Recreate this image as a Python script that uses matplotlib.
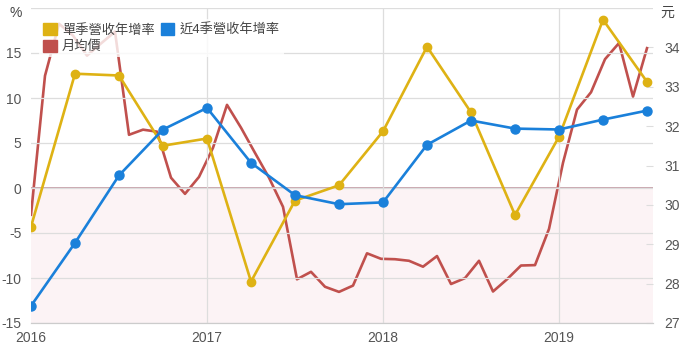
import matplotlib.pyplot as plt
from matplotlib.patches import Patch, Rectangle
from matplotlib.transforms import blended_transform_factory
import numpy as np

plt.rcParams['font.family'] = ['Liberation Sans', 'Noto Sans CJK TC']

# quarterly growth (%), quarters from 2016 Q1 to 2019 Q3
quarter_x = [2016 + 0.25 * i for i in range(15)]
single_q_growth = [-4.3, 12.7, 12.5, 4.7, 5.5, -10.4, -1.4, 0.3, 6.3, 15.7, 8.4, -3.0, 5.7, 18.7, 11.8]
four_q_growth = [-13.1, -6.1, 1.4, 6.5, 8.9, 2.8, -0.8, -1.8, -1.6, 4.8, 7.5, 6.6, 6.5, 7.6, 8.6]

# monthly average price (元)
price = [29.75, 33.28, 34.6, 34.3, 33.79, 34.1, 34.4, 31.78, 31.91, 31.86,
         30.69, 30.28, 30.71, 31.45, 32.54, 31.96, 31.32, 30.69, 29.95, 28.11,
         28.30, 27.92, 27.79, 27.95, 28.77, 28.63, 28.62, 28.58, 28.43, 28.70,
         27.99, 28.14, 28.58, 27.80, 28.11, 28.46, 28.47, 29.39, 31.07, 32.42,
         32.86, 33.70, 34.11, 32.75, 33.98]
price_x = np.linspace(2016, 2019.5, len(price))

years = [2016, 2017, 2018, 2019]
pct_ticks = [-15, -10, -5, 0, 5, 10, 15, 20]
price_ticks = [27, 28, 29, 30, 31, 32, 33, 34]

yellow = '#DEB214'
blue = '#1A80DA'
red = '#C0504D'
label_color = '#555555'

fig = plt.figure(figsize=(6.85, 3.52), dpi=100)
ax = fig.add_axes([31/685, 29/352, 622/685, 315/352])
ax2 = ax.twinx()
ax.set_zorder(ax2.get_zorder() + 1)
ax.patch.set_visible(False)

ax.set_xlim(2016, 2019.534)
ax.set_ylim(-15, 20)

# light pink band below zero, drawn on the back axes so the red line stays on top
band = Rectangle((0, -15), 1, 15, transform=blended_transform_factory(ax.transAxes, ax.transData),
                 facecolor='#fcf3f5', lw=0, zorder=0)
ax2.add_patch(band)

# red price line on the right axis (drawn behind)
ax2.plot(price_x, price, '-', color=red, lw=1.9, zorder=2)
ax2.set_ylim(27, 35)
ax2.set_yticks(price_ticks)
ax2.tick_params(axis='y', direction='in', length=5, color='#dddddd',
                labelsize=10, labelcolor=label_color, pad=8)

# growth lines on the left axis
ax.axhline(0, color='#c9a3ab', lw=1.4, zorder=1)
ax.plot(quarter_x, single_q_growth, 'o-', color=yellow, lw=1.9, ms=6, zorder=3)
ax.plot(quarter_x, four_q_growth, 'o-', color=blue, lw=1.9, ms=6.5, zorder=4)

ax.set_xticks(years)
ax.set_xticklabels([str(y) for y in years])
ax.set_yticks(pct_ticks)
ax.set_yticklabels([str(t) for t in pct_ticks[:-1]] + [''])
ax.tick_params(axis='y', length=0, labelsize=10, labelcolor=label_color, pad=7)
ax.tick_params(axis='x', length=0, labelsize=10, labelcolor=label_color, pad=6)
ax.grid(True, color='#dddddd', lw=0.9, zorder=0)
ax.get_xgridlines()[0].set_visible(False)

for a in (ax, ax2):
    for side in ('top', 'left', 'right'):
        a.spines[side].set_visible(False)
    a.spines['bottom'].set_color('#cccccc')

fig.text(16/685, 1 - 13/352, '%', ha='center', va='center', fontsize=10, color='#444444')
fig.text(667/685, 1 - 13/352, '元', ha='center', va='center', fontsize=10, color='#444444')

handles = [Patch(color=yellow), Patch(color=red), Patch(color=blue)]
labels = ['單季營收年增率', '月均價', '近4季營收年增率']
leg = ax.legend(handles, labels, ncol=2, loc='upper left', bbox_to_anchor=(0.003, 0.985),
                fontsize=9.5, frameon=True, handlelength=1.0, handleheight=1.0,
                handletextpad=0.4, columnspacing=0.5, labelspacing=0.25, borderpad=0.3)
leg.get_frame().set_facecolor('white')
leg.get_frame().set_alpha(0.8)
leg.get_frame().set_linewidth(0)
for t in leg.get_texts():
    t.set_color('#444444')

fig.savefig('out.png', dpi=100)
